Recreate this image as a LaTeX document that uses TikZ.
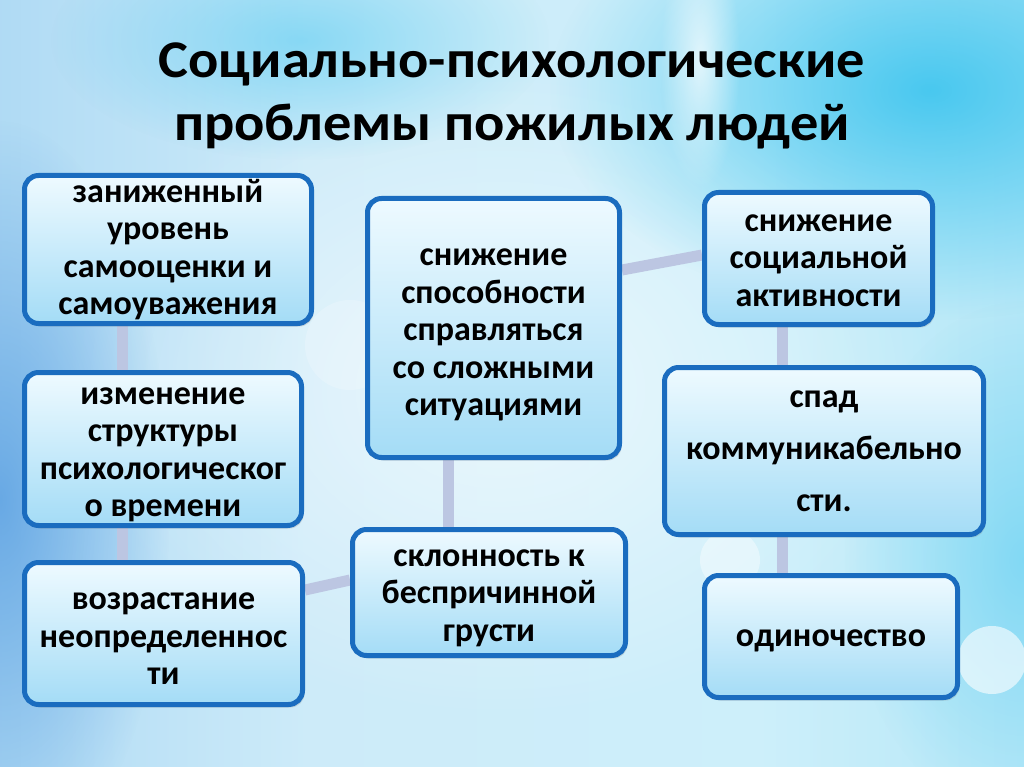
\documentclass[tikz,border=0pt]{standalone}
\usepackage{fontspec}
\setmainfont{Carlito}
\usetikzlibrary{shadows,fadings}
\pgfdeclarelayer{bg}
\pgfsetlayers{bg,main}
\definecolor{boxblue}{HTML}{1A6CBF}
\definecolor{boxtop}{HTML}{EEFAFF}
\definecolor{boxbot}{HTML}{A4DCF6}
\definecolor{conncol}{HTML}{BCC6E2}
\definecolor{bgA}{HTML}{66AAE6}
\definecolor{bgB}{HTML}{96CCF0}
\definecolor{bgC}{HTML}{CDEBF9}
\definecolor{bgD}{HTML}{CDEFFA}
\definecolor{bgE}{HTML}{A4E2F6}
\definecolor{bgF}{HTML}{86D8F3}
\definecolor{glowcyan}{HTML}{34C2EE}
\definecolor{glowblue}{HTML}{4A94DE}
\pgfdeclarehorizontalshading{bgshade}{100bp}{color(0bp)=(bgA); color(12bp)=(bgB); color(40bp)=(bgC); color(62bp)=(bgD); color(85bp)=(bgE); color(100bp)=(bgF)}
\tikzfading[name=softglow, inner color=transparent!0, outer color=transparent!100]
\newcommand\mytopstrut{\rule{0pt}{28pt}}
\tikzset{
  box/.style={draw=boxblue, line width=5pt, rounded corners=14pt,
    top color=boxtop, bottom color=boxbot, align=center, inner sep=0pt,
    font=\bfseries\fontsize{34}{37.5}\selectfont, text=black,
    drop shadow={opacity=0.25, shadow xshift=2pt, shadow yshift=-3pt}},
  conn/.style={line width=11pt, draw=conncol, line cap=butt},
  titletext/.style={align=center, font=\bfseries\fontsize{53}{63}\selectfont, text=black, xscale=1.065},
  glow/.style={path fading=softglow, fit fading=true}
}
\begin{document}
\begin{tikzpicture}[x=1pt,y=-1pt]
\useasboundingbox (0,0) rectangle (1024,767);
\begin{pgfonlayer}{bg}
  \shade[shading=bgshade] (0,0) rectangle (1024,767);
  \fill[glow, color=white, opacity=0.6] (500,390) ellipse (430 and 330);
  \fill[glow, color=glowcyan, opacity=0.85] (930,90) ellipse (380 and 230);
  \fill[glow, color=glowcyan, opacity=0.45] (300,40) ellipse (250 and 120);
  \fill[glow, color=glowblue, opacity=0.7] (0,500) ellipse (170 and 380);
  \fill[glow, color=glowcyan, opacity=0.4] (1024,560) ellipse (180 and 260);
  \fill[glow, color=white, opacity=0.7] (700,60) ellipse (40 and 130);
  \fill[color=white, opacity=0.6] (992,660) circle (34);
  \fill[color=white, opacity=0.4] (730,560) circle (30);
  \fill[color=white, opacity=0.2] (350,345) circle (45);
\end{pgfonlayer}

\node[titletext] (title) at (512,96) {Социально-психологические\\проблемы пожилых людей};

\node[box, minimum width=287pt, minimum height=148pt] (A) at (168,249.5) {заниженный\\уровень\\самооценки и\\самоуважения};
\node[box, minimum width=277pt, minimum height=153pt] (B) at (163,449) {\mytopstrut изменение\\структуры\\психологическог\\о времени};
\node[box, minimum width=278pt, minimum height=142pt] (C) at (163.5,633.5) {\mytopstrut возрастание\\неопределеннос\\ти};
\node[box, minimum width=252pt, minimum height=259pt] (D) at (493.5,328) {\rule{0pt}{31pt}снижение\\способности\\справляться\\со сложными\\ситуациями};
\node[box, minimum width=273pt, minimum height=126pt] (E) at (489,592.5) {\mytopstrut склонность к\\беспричинной\\грусти};
\node[box, minimum width=228pt, minimum height=132pt] (F) at (818.5,258.5) {\rule{0pt}{21pt}снижение\\социальной\\активности};
\node[box, minimum width=319pt, minimum height=167pt, font=\bfseries\fontsize{34}{52}\selectfont] (G) at (824,451) {спад\\коммуникабельно\\сти.};
\node[box, minimum width=253pt, minimum height=122pt] (H) at (831,636.5) {\rule{0pt}{25pt}одиночество};

\begin{pgfonlayer}{bg}
  \draw[conn] ([xshift=-46pt]A.south) -- ([xshift=-41pt]B.north);
  \draw[conn] ([xshift=-41pt]B.south) -- ([xshift=-41.5pt]C.north);
  \draw[conn] ([yshift=43.5pt]C.east) -- ([yshift=12.5pt]E.west);
  \draw[conn] ([xshift=-45.5pt]D.south) -- ([xshift=-41pt]E.north);
  \draw[conn] ([yshift=58pt]D.east) -- ([yshift=3.5pt]F.west);
  \draw[conn] ([xshift=-36.5pt]F.south) -- ([xshift=-42pt]G.north);
  \draw[conn] ([xshift=-42pt]G.south) -- ([xshift=-49pt]H.north);
\end{pgfonlayer}
\end{tikzpicture}
\end{document}
